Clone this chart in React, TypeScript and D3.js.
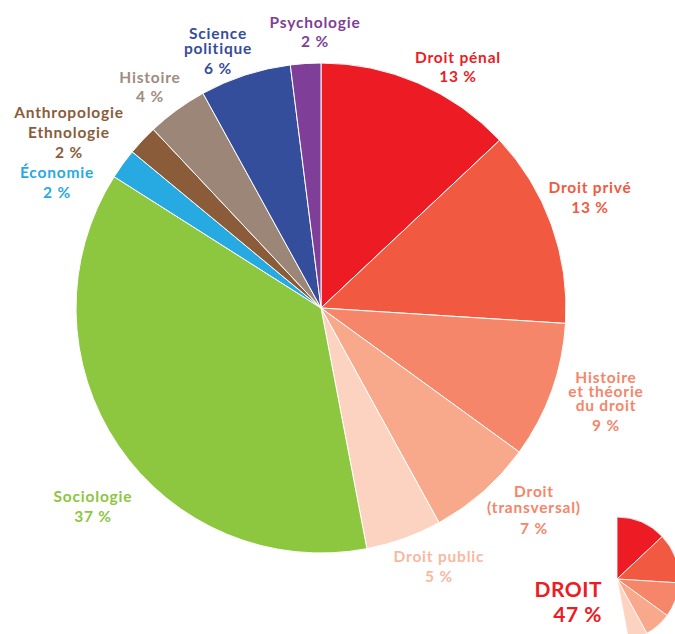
import React from 'react';
import * as d3 from 'd3';

// disciplines, clockwise from 12 o'clock
const disciplines = [
    'Droit pénal',
    'Droit privé',
    'Histoire et théorie du droit',
    'Droit (transversal)',
    'Droit public',
    'Sociologie',
    'Économie',
    'Anthropologie Ethnologie',
    'Histoire',
    'Science politique',
    'Psychologie',
];
const shares = [13, 13, 9, 7, 5, 37, 2, 2, 4, 6, 2];
const labelLines = [
    ['Droit pénal'],
    ['Droit privé'],
    ['Histoire', 'et théorie', 'du droit'],
    ['Droit', '(transversal)'],
    ['Droit public'],
    ['Sociologie'],
    ['Économie'],
    ['Anthropologie', 'Ethnologie'],
    ['Histoire'],
    ['Science', 'politique'],
    ['Psychologie'],
];
const droitCount = 5;
const droitTotal = 47;

const colors = [
    '#ED1C24', '#F15A40', '#F5866A', '#F8A98B', '#FCD3C1',
    '#8DC63F', '#27AAE1', '#8A5C3A', '#9C8678', '#354E9B', '#7F3F98',
];
const labelColors = [
    '#ED1C24', '#F15A40', '#F5866A', '#F5866A', '#F9B8A0',
    '#8DC63F', '#27AAE1', '#8A5C3A', '#A08C80', '#354E9B', '#7F3F98',
];

// label anchor (centre x, first baseline, line step, gap before the %)
const labelPos: [number, number, number, number][] = [
    [458, 63, 15, 19],
    [590, 193, 15, 20],
    [606, 382.5, 14.2, 20],
    [534, 497, 15.5, 21],
    [439, 562, 15, 20],
    [93, 502, 15, 20],
    [57, 178, 15, 20],
    [69, 118, 20, 20],
    [150, 83, 15, 19],
    [218, 39, 15, 19.5],
    [315, 28, 15, 19],
];

const W = 675;
const H = 634;
const cx = 321;
const cy = 308;
const R = 245;
const insetX = 617;
const insetY = 579;
const insetR = 62;
const font = 'Lato, "Open Sans", sans-serif';

const App: React.FC = () => {
    const pie = d3.pie<number>().value((d) => d).sort(null);
    const arcs = pie(shares);
    const arc = d3.arc<d3.PieArcDatum<number>>().innerRadius(0).outerRadius(R);
    const insetArc = d3.arc<d3.PieArcDatum<number>>().innerRadius(0).outerRadius(insetR);

    return (
        <svg
            width={W}
            height={H}
            style={{ position: 'absolute', left: 0, top: 0, background: '#fff' }}
            fontFamily={font}
            fontWeight={700}
        >
            <g transform={`translate(${cx},${cy})`}>
                {arcs.map((a, i) => (
                    <path key={disciplines[i]} d={arc(a) ?? ''} fill={colors[i]} stroke="#fff" strokeWidth={1} />
                ))}
            </g>

            {labelLines.map((lines, i) => {
                const [x, y, step, gap] = labelPos[i];
                return (
                    <text
                        key={disciplines[i]}
                        x={x}
                        y={y}
                        fill={labelColors[i]}
                        textAnchor="middle"
                        fontSize={15.5}
                        letterSpacing={0.8}
                    >
                        {lines.map((ln, j) => (
                            <tspan key={j} x={x} dy={j === 0 ? 0 : step}>{ln}</tspan>
                        ))}
                        <tspan x={x} dy={gap}>{`${shares[i]} %`}</tspan>
                    </text>
                );
            })}

            {/* inset: the law share only */}
            <g transform={`translate(${insetX},${insetY})`}>
                {arcs.slice(0, droitCount).map((a, i) => (
                    <path key={i} d={insetArc(a) ?? ''} fill={colors[i]} stroke="#fff" strokeWidth={0.8} />
                ))}
            </g>
            <text x={602} y={597} fill="#ED1C24" textAnchor="end" fontSize={21} letterSpacing={0.5}>
                <tspan x={602}>DROIT</tspan>
                <tspan x={602} dy={25}>{`${droitTotal} %`}</tspan>
            </text>
        </svg>
    );
};

export default App;
